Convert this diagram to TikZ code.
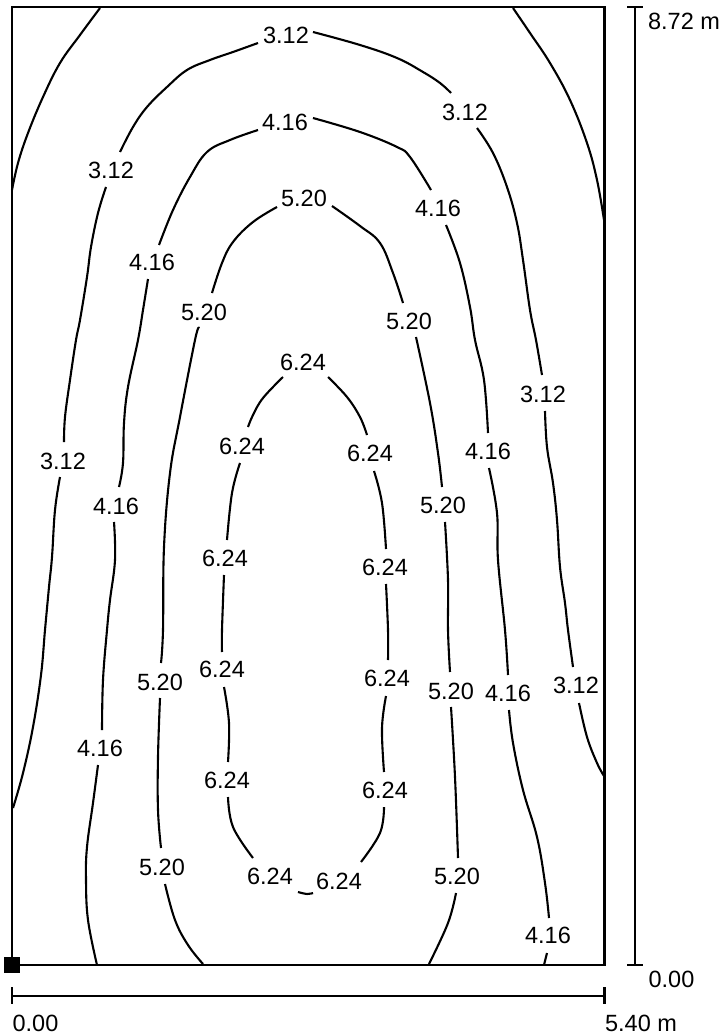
\documentclass[tikz,border=0pt]{standalone}
\usepackage{fontspec}
\setmainfont{Liberation Sans}
\tikzset{
  frameline/.style={line width=2.4pt,draw=black,line cap=butt},
  axisline/.style={line width=2.4pt,draw=black},
  contour/.style={line width=2.1pt,draw=black,line join=round},
  lab/.style={inner sep=0pt,outer sep=0pt,text=black,font=\fontsize{23.5}{25}\selectfont,anchor=center}
}
\newcommand{\seg}[1]{\draw[contour] plot[smooth,tension=0.65] coordinates {#1};}
\begin{document}
\begin{tikzpicture}[x=1pt,y=-1pt]
\useasboundingbox (0,0) rectangle (723,1035);
% frame
\draw[frameline] (12,7) rectangle (604.5,965);
\fill[black] (4,957) rectangle (20,973);
% axes
\coordinate (vt) at (635,7); \coordinate (vb) at (635,965);
\coordinate (hl) at (12,996); \coordinate (hr) at (604.5,996);
\draw[axisline] (vt) -- (vb);
\draw[axisline] (627,7) -- (643,7);
\draw[axisline] (627,965) -- (643,965);
\draw[axisline] (hl) -- (hr);
\draw[axisline] (12,987) -- (12,1004);
\draw[axisline] (604.5,987) -- (604.5,1004);
\node[lab] (a1) at (684,21) {8.72 m};
\node[lab] (a2) at (671.5,979) {0.00};
\node[lab] (a3) at (35.5,1023) {0.00};
\node[lab] (a4) at (641,1023) {5.40 m};
% corner 3.12 pieces
\seg{(100,8)(80,35)(60,63)(43,97)(28,133)(18,163)(12,190)}
\seg{(513,8)(530,33)(550,63)(570,100)(587,143)(597,180)(604,220)}
% 3.12 left
\seg{(258,43)(233,52)(210,60)(187,70)(167,87)(147,107)(133,127)(120,152)}
\seg{(106,187)(98,213)(91,247)(87,277)(80,320)(76,340)(70,380)(65,417)(64,442)}
\seg{(60,477)(55,510)(52,557)(49,587)(45,630)(41,675)(33,727)(23,773)(13,808)}
% 3.12 right
\seg{(313,32)(360,45)(397,58)(423,72)(440,83)(451,93)}
\seg{(477,128)(493,153)(507,187)(517,223)(523,260)(530,310)(536,340)(542,375)}
\seg{(545,411)(547,447)(553,483)(557,520)(560,567)(565,603)(568,630)(573,667)}
\seg{(579,703)(587,737)(597,763)(604,776)}
% 4.16 left
\seg{(258,130)(230,140)(207,152)(190,177)(173,210)(159,245)}
\seg{(148,279)(143,310)(138,340)(128,387)(124,423)(123,463)(119,487)}
\seg{(114,522)(115,560)(110,600)(107,630)(103,680)(102,730)}
\seg{(98,765)(93,803)(87,847)(86,880)(88,920)(97,965)}
% 4.16 right
\seg{(313,118)(360,132)(397,147)(410,157)(431,190)}
\seg{(446,225)(460,263)(470,307)(475,340)(484,380)(488,433)}
\seg{(489,468)(497,513)(498,560)(505,630)(508,675)}
\seg{(509,710)(513,743)(523,790)(537,837)(545,883)(549,918)}
\seg{(547,953)(544,965)}
% 5.20 left
\seg{(277,207)(253,222)(233,242)(222,263)(212,293)}
\seg{(199,328)(195,340)(180,417)(170,473)(164,547)(163,630)(161,663)}
\seg{(160,698)(158,757)(158,810)(161,848)}
\seg{(165,884)(175,920)(188,945)(203,964)}
% 5.20 right
\seg{(332,206)(360,226)(380,243)(393,273)(403,303)}
\seg{(416,337)(430,403)(438,453)(442,487)}
\seg{(445,522)(448,580)(448,630)(450,672)}
\seg{(451,707)(455,777)(458,858)}
\seg{(456,893)(448,923)(429,964)}
% 6.24 left
\seg{(283,377)(263,398)(253,415)(248,427)}
\seg{(240,463)(232,493)(227,540)}
\seg{(224,575)(222,630)(222,652)}
\seg{(224,687)(229,723)(228,762)}
\seg{(228,797)(233,827)(253,858)}
\seg{(298,892)(307,894)(313,893)}
% 6.24 right
\seg{(328,377)(347,397)(360,417)(367,435)}
\seg{(374,471)(382,503)(386,549)}
\seg{(386,584)(388,630)(388,660)}
\seg{(386,696)(382,728)(384,772)}
\seg{(384,807)(380,833)(361,862)}
% labels
\node[lab] (l01) at (286,35) {3.12};
\node[lab] (l02) at (111,170) {3.12};
\node[lab] (l03) at (63,461) {3.12};
\node[lab] (l04) at (465,112) {3.12};
\node[lab] (l05) at (543,394) {3.12};
\node[lab] (l06) at (576,685) {3.12};
\node[lab] (l07) at (285,122) {4.16};
\node[lab] (l08) at (152,262) {4.16};
\node[lab] (l09) at (116,506) {4.16};
\node[lab] (l10) at (100,748) {4.16};
\node[lab] (l11) at (438,208) {4.16};
\node[lab] (l12) at (488,451) {4.16};
\node[lab] (l13) at (508,693) {4.16};
\node[lab] (l14) at (548,935) {4.16};
\node[lab] (l15) at (304,198) {5.20};
\node[lab] (l16) at (204,312) {5.20};
\node[lab] (l17) at (160,682) {5.20};
\node[lab] (l18) at (162,867) {5.20};
\node[lab] (l19) at (409,321) {5.20};
\node[lab] (l20) at (443,505) {5.20};
\node[lab] (l21) at (451,691) {5.20};
\node[lab] (l22) at (457,876) {5.20};
\node[lab] (l23) at (303,362) {6.24};
\node[lab] (l24) at (242,446) {6.24};
\node[lab] (l25) at (225,558) {6.24};
\node[lab] (l26) at (222,669) {6.24};
\node[lab] (l27) at (227,780) {6.24};
\node[lab] (l28) at (270,876) {6.24};
\node[lab] (l29) at (339,881) {6.24};
\node[lab] (l30) at (370,453) {6.24};
\node[lab] (l31) at (385,567) {6.24};
\node[lab] (l32) at (387,678) {6.24};
\node[lab] (l33) at (385,790) {6.24};
\end{tikzpicture}
\end{document}
